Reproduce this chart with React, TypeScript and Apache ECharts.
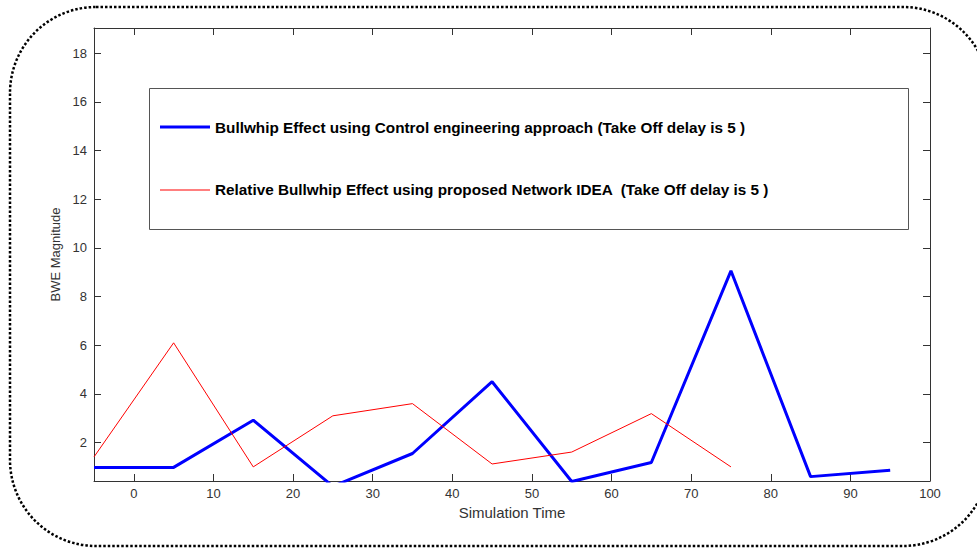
import React, { useEffect, useRef } from "react";
import * as echarts from "echarts";

const blueX = [-5, 5, 15, 25, 35, 45, 55, 65, 75, 85, 95];
const blueY = [0.98, 0.98, 2.92, 0.2, 1.55, 4.5, 0.4, 1.18, 9.06, 0.6, 0.86];
const redX = [-5, 5, 15, 25, 35, 45, 55, 65, 75];
const redY = [1.41, 6.1, 1.0, 3.1, 3.6, 1.12, 1.61, 3.19, 1.0];
const xTicks = [0, 10, 20, 30, 40, 50, 60, 70, 80, 90, 100];
const yTicks = [2, 4, 6, 8, 10, 12, 14, 16, 18];
const blueName = "Bullwhip Effect using Control engineering approach (Take Off delay is 5 )";
const redName = "Relative Bullwhip Effect using proposed Network IDEA  (Take Off delay is 5 )";
const xName = "Simulation Time";
const yName = "BWE Magnitude";

const FONT = "'Liberation Sans', Arial, Helvetica, sans-serif";
const AXIS = "#333333";

export default function App() {
  const ref = useRef<HTMLDivElement>(null);
  useEffect(() => {
    if (!ref.current) return;
    const chart = echarts.init(ref.current, undefined, { renderer: "svg" });
    const zip = (xs: number[], ys: number[]) => xs.map((x, i) => [x, ys[i]]);
    const tickStyle = { show: true, inside: true, length: 7, lineStyle: { color: AXIS, width: 1 } };
    chart.setOption({
      animation: false,
      backgroundColor: "#ffffff",
      textStyle: { fontFamily: FONT },
      grid: { left: 94, right: 47, top: 28, bottom: 67 },
      xAxis: [
        {
          type: "value",
          min: -5,
          max: 100,
          name: xName,
          nameLocation: "middle",
          nameGap: 19,
          nameTextStyle: { fontSize: 15, color: "#333", fontFamily: FONT },
          axisLine: { show: true, onZero: false, lineStyle: { color: AXIS, width: 1 } },
          axisTick: { ...tickStyle, customValues: xTicks },
          axisLabel: { customValues: xTicks, fontSize: 13, color: "#333", margin: 6, fontFamily: FONT },
          splitLine: { show: false },
        },
        {
          type: "value",
          position: "top",
          min: -5,
          max: 100,
          axisLine: { show: true, onZero: false, lineStyle: { color: AXIS, width: 1 } },
          axisTick: { ...tickStyle, customValues: xTicks },
          axisLabel: { show: false },
          splitLine: { show: false },
        },
      ],
      yAxis: [
        {
          type: "value",
          min: 0.42,
          max: 19.04,
          name: yName,
          nameLocation: "middle",
          nameGap: 30,
          nameTextStyle: { fontSize: 13, color: "#333", fontFamily: FONT },
          axisLine: { show: true, onZero: false, lineStyle: { color: AXIS, width: 1 } },
          axisTick: { ...tickStyle, customValues: yTicks },
          axisLabel: { customValues: yTicks, fontSize: 13, color: "#333", margin: 7, fontFamily: FONT },
          splitLine: { show: false },
        },
        {
          type: "value",
          position: "right",
          min: 0.42,
          max: 19.04,
          axisLine: { show: true, onZero: false, lineStyle: { color: AXIS, width: 1 } },
          axisTick: { ...tickStyle, customValues: yTicks },
          axisLabel: { show: false },
          splitLine: { show: false },
        },
      ],
      legend: {
        orient: "vertical",
        left: 155,
        top: 114.5,
        itemWidth: 50,
        itemHeight: 18,
        itemGap: 47.9,
        textStyle: { fontSize: 15.3, fontWeight: "bold", color: "#000", fontFamily: FONT },
        data: [
          { name: blueName, icon: "path://M0,0 L50,0 L50,3 L0,3 Z" },
          { name: redName, icon: "path://M0,0 L50,0 L50,1 L0,1 Z" },
        ],
      },
      graphic: [
        {
          type: "rect",
          shape: { x: 149.5, y: 88.5, width: 759, height: 141 },
          style: { fill: "none", stroke: "#555", lineWidth: 1 },
          z: 10,
        },
        {
          type: "rect",
          shape: { x: 10, y: 7, width: 979, height: 539, r: 86 },
          style: { fill: "none", stroke: "#000", lineWidth: 2.5, lineDash: [2.5, 2] },
          z: 10,
        },
      ],
      series: [
        {
          name: blueName,
          type: "line",
          symbol: "none",
          data: zip(blueX, blueY),
          lineStyle: { color: "#0000ff", width: 3 },
          itemStyle: { color: "#0000ff" },
        },
        {
          name: redName,
          type: "line",
          symbol: "none",
          data: zip(redX, redY),
          lineStyle: { color: "#ff0000", width: 1 },
          itemStyle: { color: "#ff0000" },
        },
      ],
    });
    return () => chart.dispose();
  }, []);
  return (
    <div
      ref={ref}
      style={{ position: "fixed", left: 0, top: 0, width: 977, height: 548, background: "#fff" }}
    />
  );
}
